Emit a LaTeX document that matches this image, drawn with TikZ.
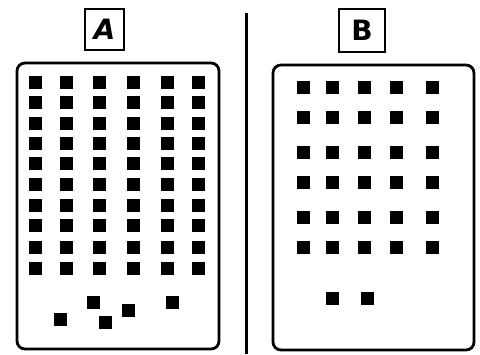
\documentclass[tikz,border=0pt]{standalone}
\usepackage{fontspec}
\setmainfont{DejaVu Sans}
\begin{document}
\begin{tikzpicture}[x=1pt,y=-1pt,
  panel/.style={draw=black,line width=2.8pt,rounded corners=8pt},
  labelbox/.style={draw=black,line width=2.2pt,minimum width=39pt,minimum height=41pt,inner sep=0pt,font=\fontsize{28}{30}\selectfont},
  sq/.style={fill=black,draw=none,minimum size=13pt,inner sep=0pt}]
\useasboundingbox (0,0) rectangle (480,354);
\fill[white] (0,0) rectangle (480,354);
% panels
\draw[panel] (17,63) rectangle (219,349);
\draw[panel] (273,65) rectangle (474,350);
% labels
\node[labelbox] (la) at (104.5,29.5) {\textsl{\textbf{A}}};
\node[labelbox,minimum width=46pt,minimum height=43pt] (lb) at (362,30.5) {\textbf{B}};
% divider
\coordinate (d1) at (246,13);
\coordinate (d2) at (246,354);
\draw[line width=3pt] (d1) -- (d2);
% squares A
\foreach \x [count=\i] in {35,66,99,133,167,198}{
  \foreach \y [count=\j] in {82,102,123,143,163,184,205,225,247,268}{
    \node[sq] (a-\i-\j) at (\x,\y) {};
  }
}
\node[sq] (a1) at (60,319) {};
\node[sq] (a2) at (93,302) {};
\node[sq] (a3) at (105,322) {};
\node[sq] (a4) at (128,310) {};
\node[sq] (a5) at (172,302) {};
% squares B
\foreach \x [count=\i] in {303,332,364,396,432}{
  \foreach \y [count=\j] in {87,117,152,182,217,247}{
    \node[sq] (b-\i-\j) at (\x,\y) {};
  }
}
\node[sq] (b1) at (332,298) {};
\node[sq] (b2) at (367,298) {};
\end{tikzpicture}
\end{document}
